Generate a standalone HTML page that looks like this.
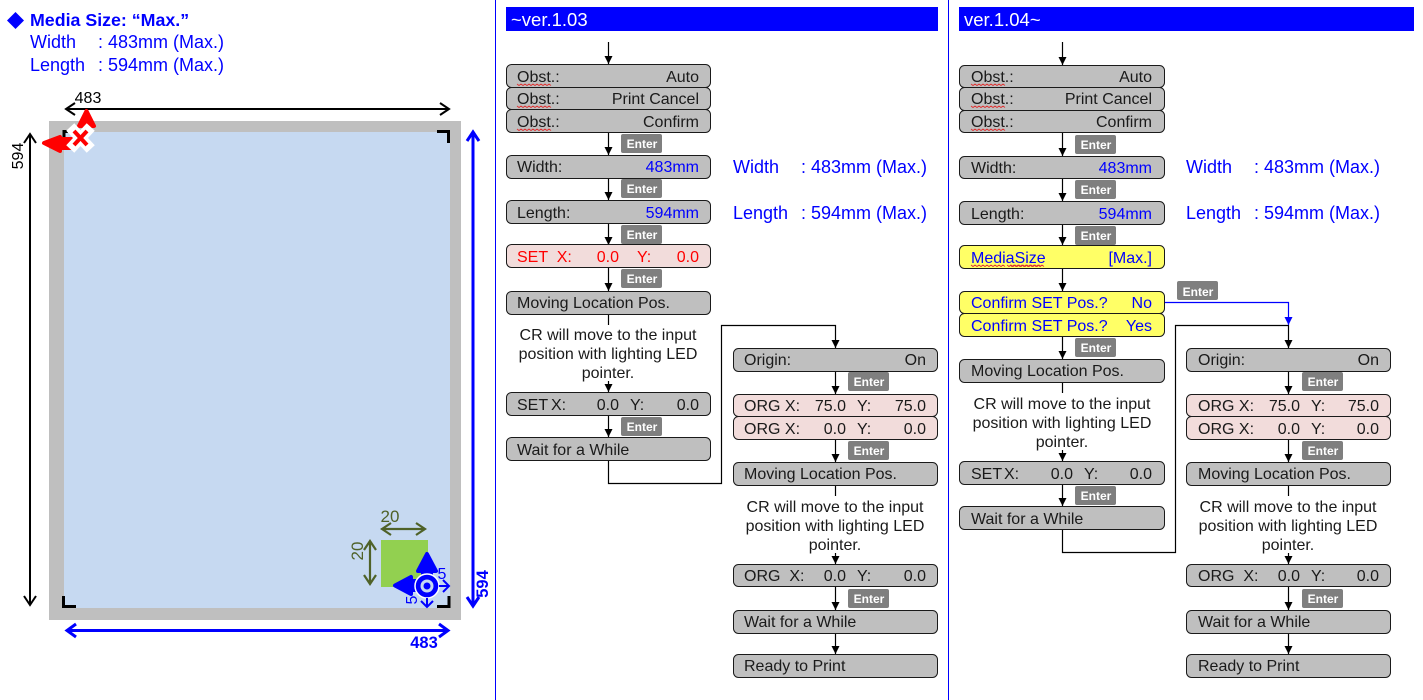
<!DOCTYPE html>
<html><head><meta charset="utf-8"><style>
html,body{margin:0;padding:0;background:#fff;width:1423px;height:700px;overflow:hidden}
svg{display:block}
text{font-family:"Liberation Sans",sans-serif;font-size:16px;fill:#1a1a1a;white-space:pre}
.b{fill:#00f}.r{fill:#f00}.e{text-anchor:end}.m{text-anchor:middle}
.box{fill:#bfbfbf;stroke:#1a1a1a;stroke-width:1}
.pink{fill:#f2dcdb;stroke:#1a1a1a;stroke-width:1}
.yel{fill:#ff6;stroke:#1a1a1a;stroke-width:1}
.en{fill:#7f7f7f}
.ent{font-size:12px;font-weight:bold;fill:#fff;text-anchor:middle}
.l{fill:none;stroke:#000;stroke-width:1.2}
.a{fill:none;stroke:#000;stroke-width:1.2;marker-end:url(#ah)}
.w{fill:none;stroke:#e03030;stroke-width:.9}
.h{font-size:18px;fill:#00f}
</style></head><body>
<svg width="1423" height="700" viewBox="0 0 1423 700" xmlns="http://www.w3.org/2000/svg">
<defs>
<marker id="ah" markerUnits="userSpaceOnUse" markerWidth="9" markerHeight="8" refX="8" refY="4" orient="auto"><path d="M0 0L8 4L0 8Z" fill="#000"/></marker>
<marker id="ab" markerUnits="userSpaceOnUse" markerWidth="9" markerHeight="8" refX="8" refY="4" orient="auto"><path d="M0 0L8 4L0 8Z" fill="#00f"/></marker>
<path id="wv" d="M0 0l2 1.5 2-1.5 2 1.5 2-1.5 2 1.5 2-1.5 2 1.5 2-1.5 2 1.5 2-1.5 2 1.5 2-1.5 2 1.5 2-1.5 2 1.5 2-1.5 2 1.5" class="w"/>
</defs>

<!-- dividers & headers -->
<path d="M495.500 0V700M948.500 0V700" stroke="#00f" stroke-width="1"/>
<rect x="506" y="7" width="432" height="24" fill="#00f"/>
<rect x="959" y="7" width="455" height="24" fill="#00f"/>
<text x="511" y="26" style="font-size:18.500px;fill:#fff">~ver.1.03</text>
<text x="964" y="26" style="font-size:18.500px;fill:#fff">ver.1.04~</text>

<!-- left panel text -->
<path d="M15.500 12L24 20.500L15.500 29L7 20.500Z" fill="#00f"/>
<text x="30" y="26" class="b" style="font-weight:bold;font-size:17.800px">Media Size: “Max.”</text>
<text x="30" y="48" class="h">Width</text><text x="98" y="48" class="h">: 483mm (Max.)</text>
<text x="30" y="71" class="h">Length</text><text x="98" y="71" class="h">: 594mm (Max.)</text>

<!-- media drawing -->
<rect x="49" y="121" width="412" height="499" fill="#bfbfbf"/>
<rect x="64" y="132" width="386" height="476" fill="#c6d9f1"/>
<rect x="381" y="540" width="47" height="47" fill="#92d050"/>
<g fill="none" stroke="#000" stroke-width="3">
<path d="M64 142V131.500H68"/>
<path d="M437 131.500H448.500V143"/>
<path d="M63.500 596V606.500H76"/>
<path d="M437 606.500H449V596"/>
</g>
<g fill="none" stroke="#000" stroke-width="2">
<path d="M66 109H449M75 103L66 109L75 115M440 103L449 109L440 115"/>
<path d="M30 134V605M24 143L30 134L36 143M24 596L30 605L36 596"/>
</g>
<text x="88" y="103" class="m" style="fill:#000">483</text>
<text transform="translate(23 156) rotate(-90)" class="m" style="fill:#000">594</text>
<g fill="none" stroke="#00f" stroke-width="3">
<path d="M67 630.500H448M76 624L67 630.500L76 637M439 624L448 630.500L439 637"/>
<path d="M473 132V606M467 141L473 132L479 141M467 597L473 606L479 597"/>
</g>
<text x="424" y="648" class="b m" style="font-weight:bold;font-size:16.500px">483</text>
<text transform="translate(488 584) rotate(-90)" class="b m" style="font-weight:bold;font-size:16.500px">594</text>
<g fill="none" stroke="#4f6228" stroke-width="2.200">
<path d="M382 529H425M391 523L382 529L391 535M416 523L425 529L416 535"/>
<path d="M370 541V584M364 550L370 541L376 550M364 575L370 584L376 575"/>
</g>
<text x="390" y="522" class="m" style="fill:#4f6228;font-size:17px">20</text>
<text transform="translate(363 551) rotate(-90)" class="m" style="fill:#4f6228;font-size:17px">20</text>
<!-- blue origin marker -->
<path d="M427 554L436 571H431V578H423V571H418Z" fill="#00f" stroke="#00f" stroke-linejoin="round" stroke-width="4"/>
<path d="M395 585.500L411 577V581H418V590H411V594Z" fill="#00f" stroke="#00f" stroke-linejoin="round" stroke-width="4"/>
<circle cx="427" cy="586" r="12" fill="#00f" stroke="#fff" stroke-width="1.500"/>
<circle cx="427" cy="586" r="6.500" fill="#c6d9f1"/>
<circle cx="427" cy="586" r="3.500" fill="#00f"/>
<path d="M439 586H449M443 580L449 586L443 592M427 598V607M421 601L427 607L433 601" fill="none" stroke="#00f" stroke-width="2"/>
<text x="442" y="579" class="b m">5</text>
<text transform="translate(417 600) rotate(-90)" class="b m">5</text>
<!-- red origin marker -->
<path d="M86.500 111L94 126H79Z" fill="#f00" stroke="#f00" stroke-linejoin="round" stroke-width="4"/>
<path d="M44 143L60 137V139H72V148H60V151Z" fill="#f00" stroke="#f00" stroke-linejoin="round" stroke-width="4"/>
<path d="M74 131L87 145M87 131L74 145" stroke="#fff" stroke-width="11" stroke-linecap="square"/>
<path d="M74 131L87 145M87 131L74 145" stroke="#f00" stroke-width="4"/>

<!-- ~ver.1.03 connectors -->
<path class="a" d="M608.500 42V64"/><path class="a" d="M608.500 132V155"/><path class="a" d="M608.500 178V200"/><path class="a" d="M608.500 224V245"/><path class="a" d="M608.500 267V291"/><path class="l" d="M608.500 314V325"/><path class="a" d="M608.500 381V392"/><path class="a" d="M608.500 415V437"/>
<path class="a" d="M608.500 460V483.500H721.500V325.500H835.500V348"/>
<path class="a" d="M835.500 371V394"/><path class="a" d="M835.500 439V462"/><path class="l" d="M835.500 485V496"/><path class="a" d="M835.500 553V564"/><path class="a" d="M835.500 586V610"/><path class="a" d="M835.500 633V654"/>

<!-- ~ver.1.03 boxes -->
<rect class="box" x="506.500" y="64.500" width="204" height="23" rx="5"/><rect class="box" x="506.500" y="87.500" width="204" height="22" rx="5"/><rect class="box" x="506.500" y="109.500" width="204" height="23" rx="5"/>
<text x="517" y="82">Obst.:</text><text x="699" y="82" class="e">Auto</text><use href="#wv" x="517" y="84"/>
<text x="517" y="104">Obst.:</text><text x="699" y="104" class="e">Print Cancel</text><use href="#wv" x="517" y="106"/>
<text x="517" y="127">Obst.:</text><text x="699" y="127" class="e">Confirm</text><use href="#wv" x="517" y="129"/>
<rect class="box" x="506.500" y="155.500" width="204" height="23" rx="5"/><text x="517" y="172">Width:</text><text x="699" y="172" class="e b">483mm</text>
<rect class="box" x="506.500" y="200.500" width="204" height="23" rx="5"/><text x="517" y="218">Length:</text><text x="699" y="218" class="e b">594mm</text>
<rect class="pink" x="506.500" y="244.500" width="204" height="23" rx="5"/><text x="517" y="262" class="r">SET  X:</text><text x="619" y="262" class="e r">0.0</text><text x="637" y="262" class="r">Y:</text><text x="699" y="262" class="e r">0.0</text>
<rect class="box" x="506.500" y="291.500" width="204" height="23" rx="5"/><text x="517" y="308">Moving Location Pos.</text>
<text x="608" y="340" class="m">CR will move to the input</text><text x="608" y="359" class="m">position with lighting LED</text><text x="608" y="378" class="m">pointer.</text>
<rect class="box" x="506.500" y="392.500" width="204" height="23" rx="5"/><text x="517" y="410">SET</text><text x="551" y="410">X:</text><text x="619" y="410" class="e">0.0</text><text x="630" y="410">Y:</text><text x="699" y="410" class="e">0.0</text>
<rect class="box" x="506.500" y="437.500" width="204" height="23" rx="5"/><text x="517" y="455">Wait for a While</text>

<text x="733" y="173" class="h">Width</text><text x="801" y="173" class="h">: 483mm (Max.)</text>
<text x="733" y="219" class="h">Length</text><text x="801" y="219" class="h">: 594mm (Max.)</text>

<rect class="box" x="733.500" y="348.500" width="204" height="23" rx="5"/><text x="744" y="365">Origin:</text><text x="926" y="365" class="e">On</text>
<rect class="pink" x="733.500" y="394.500" width="204" height="22" rx="5"/><text x="744" y="411">ORG X:</text><text x="846" y="411" class="e">75.0</text><text x="857" y="411">Y:</text><text x="926" y="411" class="e">75.0</text>
<rect class="pink" x="733.500" y="416.500" width="204" height="23" rx="5"/><text x="744" y="434">ORG X:</text><text x="846" y="434" class="e">0.0</text><text x="857" y="434">Y:</text><text x="926" y="434" class="e">0.0</text>
<rect class="box" x="733.500" y="462.500" width="204" height="23" rx="5"/><text x="744" y="479">Moving Location Pos.</text>
<text x="835" y="512" class="m">CR will move to the input</text><text x="835" y="531" class="m">position with lighting LED</text><text x="835" y="550" class="m">pointer.</text>
<rect class="box" x="733.500" y="564.500" width="204" height="22" rx="5"/><text x="744" y="581">ORG  X:</text><text x="846" y="581" class="e">0.0</text><text x="857" y="581">Y:</text><text x="926" y="581" class="e">0.0</text>
<rect class="box" x="733.500" y="610.500" width="204" height="23" rx="5"/><text x="744" y="627">Wait for a While</text>
<rect class="box" x="733.500" y="654.500" width="204" height="23" rx="5"/><text x="744" y="671">Ready to Print</text>

<!-- ver.1.04~ connectors -->
<path class="a" d="M1062.500 42V65"/><path class="a" d="M1062.500 132V156"/><path class="a" d="M1062.500 178V201"/><path class="a" d="M1062.500 224V245"/><path class="a" d="M1062.500 268V291"/><path class="a" d="M1062.500 336V359"/><path class="l" d="M1062.500 382V393"/><path class="a" d="M1062.500 450V461"/><path class="a" d="M1062.500 484V506"/>
<path class="a" d="M1062.500 529V552.500H1175.500V325.500H1288.500V348"/>
<path d="M1165 302.500H1288.500V325" fill="none" stroke="#00f" stroke-width="1.200" marker-end="url(#ab)"/>
<path class="a" d="M1288.500 371V394"/><path class="a" d="M1288.500 439V462"/><path class="l" d="M1288.500 485V496"/><path class="a" d="M1288.500 553V564"/><path class="a" d="M1288.500 586V610"/><path class="a" d="M1288.500 633V654"/>

<!-- ver.1.04~ boxes -->
<rect class="box" x="959.500" y="65.500" width="205" height="22" rx="5"/><rect class="box" x="959.500" y="87.500" width="205" height="23" rx="5"/><rect class="box" x="959.500" y="110.500" width="205" height="22" rx="5"/>
<text x="971" y="82">Obst.:</text><text x="1152" y="82" class="e">Auto</text><use href="#wv" x="971" y="84"/>
<text x="971" y="104">Obst.:</text><text x="1152" y="104" class="e">Print Cancel</text><use href="#wv" x="971" y="106"/>
<text x="971" y="127">Obst.:</text><text x="1152" y="127" class="e">Confirm</text><use href="#wv" x="971" y="129"/>
<rect class="box" x="959.500" y="156.500" width="205" height="22" rx="5"/><text x="971" y="173">Width:</text><text x="1152" y="173" class="e b">483mm</text>
<rect class="box" x="959.500" y="201.500" width="205" height="23" rx="5"/><text x="971" y="219">Length:</text><text x="1152" y="219" class="e b">594mm</text>
<rect class="yel" x="959.500" y="245.500" width="205" height="23" rx="5"/><text x="971" y="263" class="b">MediaSize</text><text x="1152" y="263" class="e b">[Max.]</text><use href="#wv" x="971" y="265"/><use href="#wv" x="1007" y="265"/><use href="#wv" x="1010" y="265"/>
<rect class="yel" x="959.500" y="291.500" width="205" height="22" rx="5"/><text x="971" y="308" class="b">Confirm SET Pos.?</text><text x="1152" y="308" class="e b">No</text>
<rect class="yel" x="959.500" y="313.500" width="205" height="23" rx="5"/><text x="971" y="331" class="b">Confirm SET Pos.?</text><text x="1152" y="331" class="e b">Yes</text>
<rect class="box" x="959.500" y="359.500" width="205" height="23" rx="5"/><text x="971" y="376">Moving Location Pos.</text>
<text x="1062" y="409" class="m">CR will move to the input</text><text x="1062" y="428" class="m">position with lighting LED</text><text x="1062" y="447" class="m">pointer.</text>
<rect class="box" x="959.500" y="461.500" width="205" height="23" rx="5"/><text x="971" y="479">SET</text><text x="1004" y="479">X:</text><text x="1073" y="479" class="e">0.0</text><text x="1084" y="479">Y:</text><text x="1152" y="479" class="e">0.0</text>
<rect class="box" x="959.500" y="506.500" width="205" height="23" rx="5"/><text x="971" y="524">Wait for a While</text>

<text x="1186" y="173" class="h">Width</text><text x="1254" y="173" class="h">: 483mm (Max.)</text>
<text x="1186" y="219" class="h">Length</text><text x="1254" y="219" class="h">: 594mm (Max.)</text>

<rect class="box" x="1186.500" y="348.500" width="204" height="23" rx="5"/><text x="1198" y="365">Origin:</text><text x="1379" y="365" class="e">On</text>
<rect class="pink" x="1186.500" y="394.500" width="204" height="22" rx="5"/><text x="1198" y="411">ORG X:</text><text x="1300" y="411" class="e">75.0</text><text x="1311" y="411">Y:</text><text x="1379" y="411" class="e">75.0</text>
<rect class="pink" x="1186.500" y="416.500" width="204" height="23" rx="5"/><text x="1198" y="434">ORG X:</text><text x="1300" y="434" class="e">0.0</text><text x="1311" y="434">Y:</text><text x="1379" y="434" class="e">0.0</text>
<rect class="box" x="1186.500" y="462.500" width="204" height="23" rx="5"/><text x="1198" y="479">Moving Location Pos.</text>
<text x="1288" y="512" class="m">CR will move to the input</text><text x="1288" y="531" class="m">position with lighting LED</text><text x="1288" y="550" class="m">pointer.</text>
<rect class="box" x="1186.500" y="564.500" width="204" height="22" rx="5"/><text x="1198" y="581">ORG  X:</text><text x="1300" y="581" class="e">0.0</text><text x="1311" y="581">Y:</text><text x="1379" y="581" class="e">0.0</text>
<rect class="box" x="1186.500" y="610.500" width="204" height="23" rx="5"/><text x="1198" y="627">Wait for a While</text>
<rect class="box" x="1186.500" y="654.500" width="204" height="23" rx="5"/><text x="1198" y="671">Ready to Print</text>

<!-- Enter badges -->
<g>
<rect class="en" x="621" y="134" width="41" height="19" rx="2"/><text class="ent" x="642" y="148">Enter</text>
<rect class="en" x="621" y="179" width="41" height="19" rx="2"/><text class="ent" x="642" y="193">Enter</text>
<rect class="en" x="621" y="225" width="41" height="19" rx="2"/><text class="ent" x="642" y="239">Enter</text>
<rect class="en" x="621" y="269" width="41" height="19" rx="2"/><text class="ent" x="642" y="283">Enter</text>
<rect class="en" x="621" y="417" width="41" height="19" rx="2"/><text class="ent" x="642" y="431">Enter</text>
<rect class="en" x="848" y="372" width="41" height="19" rx="2"/><text class="ent" x="869" y="386">Enter</text>
<rect class="en" x="848" y="441" width="41" height="19" rx="2"/><text class="ent" x="869" y="455">Enter</text>
<rect class="en" x="848" y="589" width="41" height="19" rx="2"/><text class="ent" x="869" y="603">Enter</text>
<rect class="en" x="1075" y="135" width="41" height="19" rx="2"/><text class="ent" x="1096" y="149">Enter</text>
<rect class="en" x="1075" y="180" width="41" height="19" rx="2"/><text class="ent" x="1096" y="194">Enter</text>
<rect class="en" x="1075" y="226" width="41" height="19" rx="2"/><text class="ent" x="1096" y="240">Enter</text>
<rect class="en" x="1177" y="281" width="41" height="19" rx="2"/><text class="ent" x="1198" y="296">Enter</text>
<rect class="en" x="1075" y="338" width="41" height="19" rx="2"/><text class="ent" x="1096" y="352">Enter</text>
<rect class="en" x="1075" y="486" width="41" height="19" rx="2"/><text class="ent" x="1096" y="500">Enter</text>
<rect class="en" x="1302" y="372" width="41" height="19" rx="2"/><text class="ent" x="1323" y="386">Enter</text>
<rect class="en" x="1302" y="441" width="41" height="19" rx="2"/><text class="ent" x="1323" y="455">Enter</text>
<rect class="en" x="1302" y="589" width="41" height="19" rx="2"/><text class="ent" x="1323" y="603">Enter</text>
</g>
</svg>
</body></html>
